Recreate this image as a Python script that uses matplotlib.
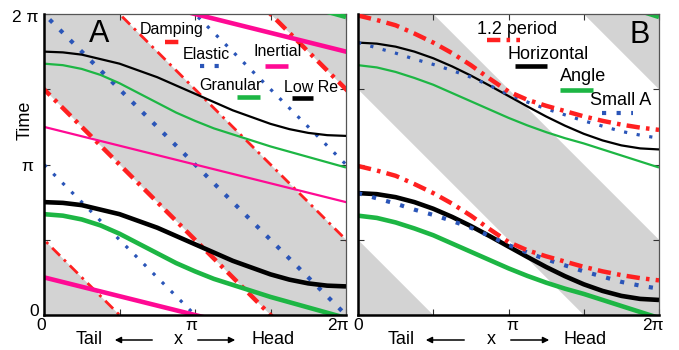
import numpy as np
import matplotlib.pyplot as plt
from matplotlib.patches import FancyArrowPatch

plt.rcParams['font.family'] = ['Liberation Sans', 'DejaVu Sans']

# all positions in units of pi (x = body position, t = time)
xs = [0, 0.125, 0.25, 0.375, 0.5, 0.625, 0.75, 0.875, 1.0,
      1.125, 1.25, 1.375, 1.5, 1.625, 1.75, 1.875, 2.0]

# panel A: curved wave crests
lowre_t = [1.75, 1.745, 1.73, 1.70, 1.67, 1.625, 1.58, 1.525, 1.47,
           1.415, 1.36, 1.315, 1.27, 1.235, 1.21, 1.195, 1.19]
granular_t = [1.67, 1.66, 1.635, 1.595, 1.54, 1.475, 1.41, 1.345, 1.29,
              1.24, 1.20, 1.16, 1.12, 1.085, 1.05, 1.015, 0.98]
# panel A: straight crests, t = c - slope*x
damping_c = [0.5, 1.5, 2.5, 3.5]
damping_thick = [False, True, False, True]
elastic_c = [1.0, 2.0, 3.0]
elastic_thick = [False, True, False]
inertial_c = [0.25, 1.25, 2.25]
inertial_thick = [True, False, True]
inertial_slope = 0.25

# panel B: curved wave crests
period12_t = [1.99, 1.96, 1.925, 1.87, 1.81, 1.74, 1.66, 1.57, 1.485,
              1.43, 1.39, 1.355, 1.32, 1.29, 1.265, 1.245, 1.23]
horiz_t = [1.81, 1.803, 1.783, 1.75, 1.706, 1.652, 1.591, 1.524, 1.455,
           1.386, 1.319, 1.258, 1.204, 1.16, 1.127, 1.107, 1.10]
angle_t = [1.66, 1.645, 1.615, 1.575, 1.53, 1.475, 1.42, 1.365, 1.31,
           1.26, 1.215, 1.175, 1.14, 1.10, 1.06, 1.02, 0.98]
smallA_t = [1.81, 1.775, 1.74, 1.70, 1.665, 1.625, 1.58, 1.525, 1.465,
            1.415, 1.37, 1.33, 1.29, 1.255, 1.22, 1.195, 1.175]

# shaded bands (x + t between the two values)
gray_bands = [(-0.5, 0.5), (1.5, 2.5), (3.5, 4.5)]

RED = '#ff2020'
BLUE = '#2a55b8'
GREEN = '#1db644'
PINK = '#ff0a94'
GRAY = '#d3d3d3'

W, H = 679, 350
fig = plt.figure(figsize=(W / 100, H / 100), dpi=100)
axA = fig.add_axes([44 / W, 35 / H, 302 / W, 301 / H])
axB = fig.add_axes([358 / W, 35 / H, 301 / W, 301 / H])

xa = np.array(xs)
xline = np.array([-1.0, 3.0])

thin = dict(lw=1.6, solid_capstyle='butt')
thick = dict(lw=3.3, solid_capstyle='butt')
dot_thin = dict(lw=2.3, ls=(0, (1, 3.0)))
dot_thick = dict(lw=3.0, ls=(0, (1, 2.5)))
dd_thin = dict(lw=2.0, ls=(0, (4, 2, 1, 2)))
dd_thick = dict(lw=3.2, ls=(0, (3, 1.4, 0.8, 1.4)))

for ax in (axA, axB):
    for c1, c2 in gray_bands:
        ax.fill_between(xline, c1 - xline, c2 - xline, color=GRAY, lw=0, zorder=0)
    ax.set_xlim(0, 2)
    ax.set_ylim(0, 2)
    ax.set_xticks([0, 0.5, 1, 1.5, 2])
    ax.set_yticks([0, 0.5, 1, 1.5, 2])
    ax.tick_params(direction='in', length=4, width=0.8, top=True, right=True,
                   labelbottom=False, labelleft=False, color='#333333')
    for s in ('left', 'bottom'):
        ax.spines[s].set_linewidth(1.8)
        ax.spines[s].set_zorder(5)
    for s in ('top', 'right'):
        ax.spines[s].set_linewidth(0.9)
        ax.spines[s].set_color('#555555')

# ---- panel A
for c, tk in zip(damping_c, damping_thick):
    axA.plot(xline, c - xline, color=RED, zorder=2, **(dd_thick if tk else dd_thin))
for c, tk in zip(elastic_c, elastic_thick):
    axA.plot(xline, c - xline, color=BLUE, zorder=2, **(dot_thick if tk else dot_thin))
for c, tk in zip(inertial_c, inertial_thick):
    axA.plot(xline, c - inertial_slope * xline, color=PINK, zorder=2,
             **(thick if tk else thin))
axA.plot(xa, np.array(granular_t), color=GREEN, zorder=3, **thin)
axA.plot(xa, np.array(granular_t) - 1, color=GREEN, zorder=3, **thick)
axA.plot(xa, np.array(granular_t) + 1, color=GREEN, zorder=3, **thick)
axA.plot(xa, np.array(lowre_t), color='k', zorder=3, **thin)
axA.plot(xa, np.array(lowre_t) - 1, color='k', zorder=3, **thick)

# ---- panel B
axB.plot(xa, np.array(angle_t), color=GREEN, zorder=2, **thin)
axB.plot(xa, np.array(angle_t) - 1, color=GREEN, zorder=2, **thick)
axB.plot(xa, np.array(angle_t) + 1, color=GREEN, zorder=2, **thick)
axB.plot(xa, np.array(horiz_t), color='k', zorder=3, **thin)
axB.plot(xa, np.array(horiz_t) - 1, color='k', zorder=3, **thick)
axB.plot(xa, np.array(smallA_t), color=BLUE, zorder=4, **dot_thin)
axB.plot(xa, np.array(smallA_t) - 1, color=BLUE, zorder=4, **dot_thick)
axB.plot(xa, np.array(period12_t), color=RED, zorder=4, **dd_thick)
axB.plot(xa, np.array(period12_t) - 1, color=RED, zorder=4, **dd_thick)

# ---- legends written into the panels
def leg(ax, tx, ty, label, size, sx0, sx1, sy, color, style):
    ax.text(tx, ty, label, transform=ax.transAxes, fontsize=size,
            ha='left', va='center', zorder=6)
    ax.plot([sx0, sx1], [sy, sy], transform=ax.transAxes, color=color,
            clip_on=False, zorder=6, **style)

legA = 11.5
leg(axA, 0.318, 0.947, 'Damping', legA, 0.401, 0.46, 0.907, RED, dd_thick)
leg(axA, 0.46, 0.864, 'Elastic', legA, 0.517, 0.58, 0.827, BLUE, dot_thick)
leg(axA, 0.695, 0.874, 'Inertial', legA, 0.732, 0.808, 0.827, PINK, thick)
leg(axA, 0.513, 0.761, 'Granular', legA, 0.639, 0.715, 0.724, GREEN, thick)
leg(axA, 0.795, 0.757, 'Low Re', legA, 0.821, 0.891, 0.721, 'k', thick)

legB = 13
leg(axB, 0.395, 0.950, '1.2 period', legB, 0.429, 0.538, 0.914, RED, dd_thick)
leg(axB, 0.498, 0.864, 'Horizontal', legB, 0.522, 0.628, 0.827, 'k', thick)
leg(axB, 0.671, 0.794, 'Angle', legB, 0.671, 0.781, 0.748, GREEN, thick)
leg(axB, 0.771, 0.711, 'Small A', legB, 0.811, 0.914, 0.671, BLUE, dot_thick)

axA.text(0.182, 0.934, 'A', transform=axA.transAxes, fontsize=22,
         ha='center', va='center', zorder=6)
axB.text(0.937, 0.930, 'B', transform=axB.transAxes, fontsize=22,
         ha='center', va='center', zorder=6)

# ---- tick labels and axis labels (figure pixels)
def ftext(px, py, s, **kw):
    fig.text(px / W, 1 - py / H, s, va='center', **kw)

tsz = 12.5
ftext(38, 17, '2 π', ha='right', fontsize=tsz)
ftext(33, 167, 'π', ha='right', fontsize=tsz)
ftext(39, 311, '0', ha='right', fontsize=tsz)
for px, s in [(41, '0'), (191, 'π'), (338, '2π'), (358, '0'), (512, 'π'), (653, '2π')]:
    ftext(px, 326, s, ha='center', fontsize=tsz)

ftext(25, 120, 'Time', ha='center', fontsize=13, rotation=90)

def arrow(x0, x1, py):
    fig.add_artist(FancyArrowPatch((x0 / W, 1 - py / H), (x1 / W, 1 - py / H),
                                   transform=fig.transFigure, arrowstyle='-|>',
                                   mutation_scale=9, lw=1.1, color='k'))

for tail_x, a1, xx, a2, head_x in [(89, (155, 112), 178, (195, 238), 273),
                                   (401, (467, 423), 491, (508, 552), 585)]:
    ftext(tail_x, 339, 'Tail', ha='center', fontsize=13)
    ftext(xx, 339, 'x', ha='center', fontsize=13)
    ftext(head_x, 339, 'Head', ha='center', fontsize=13)
    arrow(a1[0], a1[1], 340)
    arrow(a2[0], a2[1], 340)

fig.savefig('out.png', dpi=100)
